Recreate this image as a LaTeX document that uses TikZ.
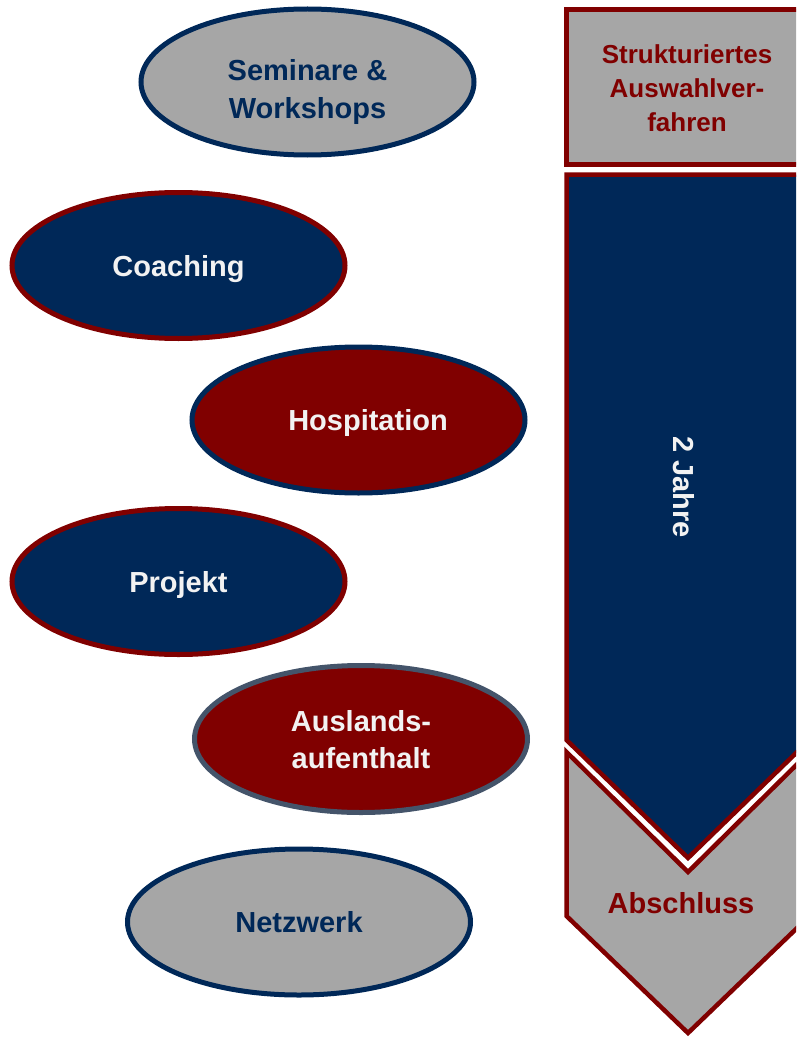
\documentclass[tikz,border=0pt]{standalone}
\usepackage{fontspec}
\setmainfont{Liberation Sans}
\usetikzlibrary{shapes.geometric}
\begin{document}
\begin{tikzpicture}[x=1pt, y=-1pt, line join=miter,
	oval/.style={ellipse, line width=5pt, minimum width=333pt, minimum height=146pt, inner sep=0pt, align=center, text depth=0pt, font=\bfseries\fontsize{29}{37}\selectfont},
	grayoval/.style={oval, fill=midgray, draw=navy, text=navy},
	blueoval/.style={oval, fill=navy, draw=darkred, text=offwhite},
	redoval/.style={oval, fill=darkred, draw=navy, text=offwhite},
	steplabel/.style={font=\bfseries\fontsize{29}{37}\selectfont, inner sep=0pt}]
	\definecolor{navy}{RGB}{0,40,88}
	\definecolor{darkred}{RGB}{128,0,0}
	\definecolor{midgray}{RGB}{166,166,166}
	\definecolor{slate}{RGB}{68,84,106}
	\definecolor{offwhite}{RGB}{242,242,242}
	\useasboundingbox (0,0) rectangle (796,1038);
	\clip (0,0) rectangle (796,1038);
	% Zeitstrahl
	\draw[line width=5pt, darkred, fill=midgray] (566.5,9.5) rectangle (810,164.5);
	\draw[line width=4.5pt, darkred, fill=navy] (566.5,174.5) -- (566.5,740) -- (688,858) -- (809.5,740) -- (809.5,174.5) -- cycle;
	\draw[line width=4.5pt, darkred, fill=midgray] (566.5,752) -- (688,872) -- (809.5,752) -- (809.5,916) -- (688,1033) -- (566.5,916) -- cycle;
	\node[steplabel, darkred, align=center, font=\bfseries\fontsize{26}{34}\selectfont] (auswahl) at (687,88) {Strukturiertes\\Auswahlver-\\fahren};
	\node[steplabel, offwhite, rotate=-90] (jahre) at (683.5,487) {2 Jahre};
	\node[steplabel, darkred] (abschluss) at (681,903) {Abschluss};
	% Bausteine
	\node[grayoval, text height=72pt] (seminare) at (307.5,82) {Seminare \&\\Workshops};
	\node[blueoval] (coaching) at (178.5,265.5) {Coaching};
	\node[redoval] (hospitation) at (358.5,420) {\hspace*{19pt}Hospitation};
	\node[blueoval] (projekt) at (178.5,581.5) {Projekt};
	\node[redoval, draw=slate, minimum height=147pt] (ausland) at (361,739) {Auslands-\\aufenthalt};
	\node[grayoval, minimum width=343pt] (netzwerk) at (299,922) {Netzwerk};
\end{tikzpicture}
\end{document}
